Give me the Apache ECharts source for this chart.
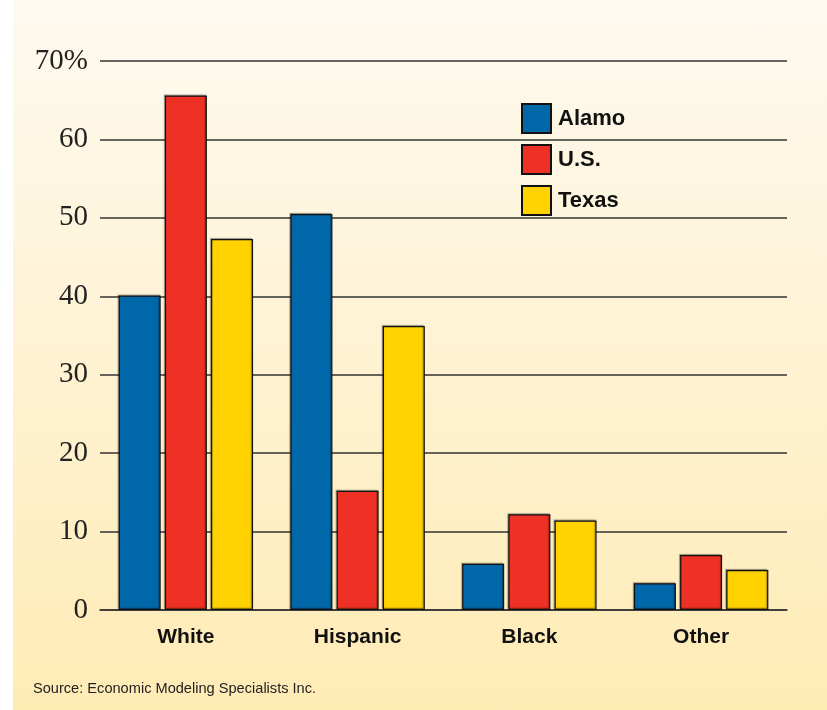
<!DOCTYPE html>
<html>
<head>
<meta charset="utf-8">
<script src="https://cdn.jsdelivr.net/npm/echarts@6/dist/echarts.min.js"></script>
<style>
  html, body { margin: 0; padding: 0; background: #ffffff; }
  #wrap {
    width: 827px; height: 710px; position: relative;
    background:
      linear-gradient(to right, #ffffff 0px, #ffffff 13px, rgba(255,255,255,0) 13px),
      linear-gradient(to bottom, #FEFAF0 0%, #FEF3D6 45%, #FFEBB4 100%);
  }
  #chart { width: 827px; height: 710px; }
</style>
</head>
<body>
<div id="wrap"><div id="chart"></div></div>
<script>
const categories = ['White', 'Hispanic', 'Black', 'Other'];
const alamo = [40.1, 50.5, 5.9, 3.4];
const us = [65.6, 15.2, 12.2, 7.0];
const texas = [47.3, 36.2, 11.4, 5.1];
const yTicks = [0, 10, 20, 30, 40, 50, 60, 70];

const chart = echarts.init(document.getElementById('chart'), null, { renderer: 'canvas' });

const barStyle = (color) => ({
  color: color,
  borderColor: '#111111',
  borderWidth: 1.2,
  shadowColor: 'rgba(0,0,0,0.35)',
  shadowBlur: 1,
  shadowOffsetX: -1,
  shadowOffsetY: -1
});

chart.setOption({
  backgroundColor: 'transparent',
  animation: false,
  grid: { left: 100, right: 40, top: 61, bottom: 100, containLabel: false },
  legend: {
    orient: 'vertical',
    left: 521,
    top: 103,
    padding: 0,
    itemWidth: 29,
    itemHeight: 29,
    itemGap: 10,
    icon: 'rect',
    textStyle: {
      fontFamily: '"Liberation Sans", Arial, sans-serif',
      fontWeight: 'bold',
      fontSize: 22,
      lineHeight: 29,
      color: '#111111',
      padding: [0, 0, 0, 2]
    },
    data: ['Alamo', 'U.S.', 'Texas']
  },
  xAxis: {
    type: 'category',
    data: categories,
    axisLine: { show: true, lineStyle: { color: '#333333', width: 1.5 } },
    axisTick: { show: false },
    axisLabel: {
      margin: 17,
      fontFamily: '"Liberation Sans", Arial, sans-serif',
      fontWeight: 'bold',
      fontSize: 21,
      color: '#111111'
    }
  },
  yAxis: {
    type: 'value',
    min: 0,
    max: 70,
    interval: 10,
    axisLine: { show: false },
    axisTick: { show: false },
    splitLine: { show: true, lineStyle: { color: '#333333', width: 1.5 } },
    axisLabel: {
      margin: 12,
      fontFamily: '"Liberation Serif", "Times New Roman", serif',
      fontSize: 29,
      color: '#222222',
      formatter: (v) => (yTicks.indexOf(v) === yTicks.length - 1 ? v + '%' : String(v))
    }
  },
  series: [
    { name: 'Alamo', type: 'bar', data: alamo, barWidth: 42, barGap: '10%', itemStyle: barStyle('#0068A9') },
    { name: 'U.S.', type: 'bar', data: us, barWidth: 42, barGap: '10%', itemStyle: barStyle('#EE3124') },
    { name: 'Texas', type: 'bar', data: texas, barWidth: 42, barGap: '10%', itemStyle: barStyle('#FFD200') }
  ],
  graphic: [
    {
      type: 'text',
      left: 33,
      top: 681,
      style: {
        text: 'Source: Economic Modeling Specialists Inc.',
        fontFamily: '"Liberation Sans", Arial, sans-serif',
        fontSize: 14.6,
        fill: '#222222'
      }
    }
  ]
});
</script>
</body>
</html>
